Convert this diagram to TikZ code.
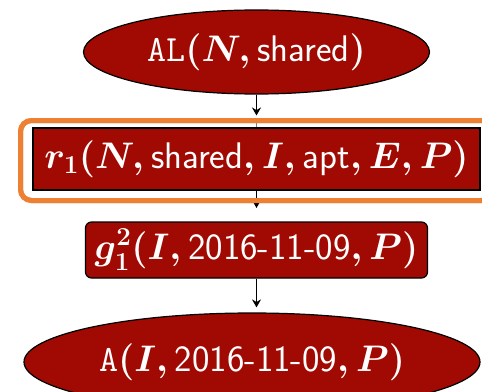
\RequirePackage{fix-cm}
\documentclass[tikz,border=0pt]{standalone}
\usepackage{amsmath}
\usetikzlibrary{shapes.geometric,arrows.meta}
\definecolor{boxred}{RGB}{160,10,2}
\definecolor{frameorange}{RGB}{238,128,52}
\tikzset{
  term/.style={draw=black, line width=1.2pt, fill=boxred, text=white, inner sep=0pt,
    font=\fontsize{37}{40}\selectfont\boldmath},
  oval/.style={term, ellipse},
  fact/.style={term, rectangle},
  flow/.style={line width=1.6pt, -{Stealth[length=8pt,width=9pt]}},
  highlight/.style={draw=frameorange, line width=5pt, rounded corners=11pt, rectangle, fill=none, inner sep=0pt}
}
\begin{document}
\begin{tikzpicture}[x=1pt,y=-1pt]
  \useasboundingbox[fill=white] (0,0) rectangle (482,391);
  % nodes
  \node[oval, minimum width=346pt, minimum height=84pt] (al) at (256.5,52)
    {$\texttt{AL}(N, \textsf{shared})$};
  \node[fact, minimum width=447pt, minimum height=62pt] (r1) at (256.5,159)
    {$r_1(N, \textsf{shared}, I, \textsf{apt}, E, P)$};
  \node[fact, rounded corners=6pt, minimum width=342pt, minimum height=56pt] (g1) at (256.5,250)
    {$g_1^2(I, \textsf{2016-11-09}, P)$};
  \node[oval, minimum width=456pt, minimum height=98pt] (a) at (252,362)
    {$\texttt{A}(I, \textsf{2016-11-09}, P)$};
  % highlight frame around the rule
  \node[highlight, minimum width=472pt, minimum height=80pt] (frame) at (256.5,160.5) {};
  \coordinate (t2) at (256.5,208);
  % connectors
  \draw[flow, shorten >=2.5pt] (al.south) -- (frame.north);
  \draw[gray, line width=0.8pt] (frame.north) ++(0,2.5) -- (r1.north);
  \draw[flow] (r1.south) -- (t2);
  \node[highlight, minimum width=472pt, minimum height=80pt] at (frame) {};
  \draw[flow, shorten >=5pt] (g1.south) -- (g1.south |- a.north);
\end{tikzpicture}
\end{document}
